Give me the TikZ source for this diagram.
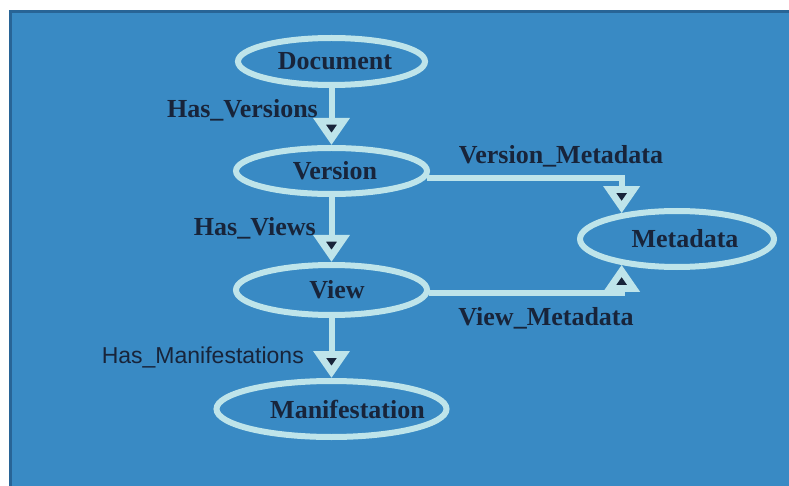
\documentclass[tikz,border=0pt]{standalone}
\usepackage{fontspec}
\setmainfont{Liberation Serif}
\newfontfamily\thinsans{Liberation Sans}
\usetikzlibrary{arrows.meta,shapes.geometric}
\definecolor{bgblue}{RGB}{57,138,196}
\definecolor{bgedge}{RGB}{40,100,150}
\definecolor{lightc}{RGB}{190,228,234}
\definecolor{darkc}{RGB}{24,36,58}
\newcommand\txtshift[2]{\makebox[0pt]{\hspace*{#1}#2}}
\tikzset{
  ent/.style={ellipse, draw=lightc, line width=6pt, inner sep=0pt, text=darkc,
    font=\fontsize{26}{26}\selectfont\bfseries},
  edge/.style={draw=lightc, line width=6pt,
    -{Triangle[length=27pt,width=35pt,fill=darkc,line width=7.5pt]}},
  lbl/.style={text=darkc, inner sep=0pt, font=\fontsize{26}{26}\selectfont\bfseries},
  thinlbl/.style={text=darkc, inner sep=0pt, font=\thinsans\fontsize{23}{23}\selectfont}
}
\begin{document}
\begin{tikzpicture}[x=1pt,y=-1pt]
\useasboundingbox (0,0) rectangle (789,486);
\fill[bgblue] (9,10) rectangle (789,486);
\draw[bgedge, line width=3pt] (10.5,486) -- (10.5,11.5) -- (789,11.5);

\node[ent, minimum width=187pt, minimum height=47pt] (doc) at (331.5,61.5) {\txtshift{7pt}{Document}};
\node[ent, minimum width=191pt, minimum height=46pt] (ver) at (331.5,171) {\txtshift{7pt}{Version}};
\node[ent, minimum width=191pt, minimum height=50pt] (view) at (331.5,290) {\txtshift{11pt}{View}};
\node[ent, minimum width=230pt, minimum height=56pt] (man) at (331.5,409) {\txtshift{32pt}{Manifestation}};
\node[ent, minimum width=194pt, minimum height=56pt] (meta) at (677,239) {\txtshift{16pt}{Metadata}};

\draw[edge] (doc) -- (ver);
\draw[edge] (ver) -- (view);
\draw[edge] (view) -- (man);
\draw[edge] (ver.-4) -| (meta.155);
\draw[edge] (view.-2) -| (meta.205);

\node[lbl, anchor=east] (l1) at (318,110) {Has\_Versions};
\node[lbl] (l2) at (561,156) {Version\_Metadata};
\node[lbl, anchor=east] (l3) at (316,228) {Has\_Views};
\node[lbl] (l4) at (546,318) {View\_Metadata};
\node[thinlbl, anchor=east] (l5) at (304,357) {Has\_Manifestations};
\end{tikzpicture}
\end{document}
